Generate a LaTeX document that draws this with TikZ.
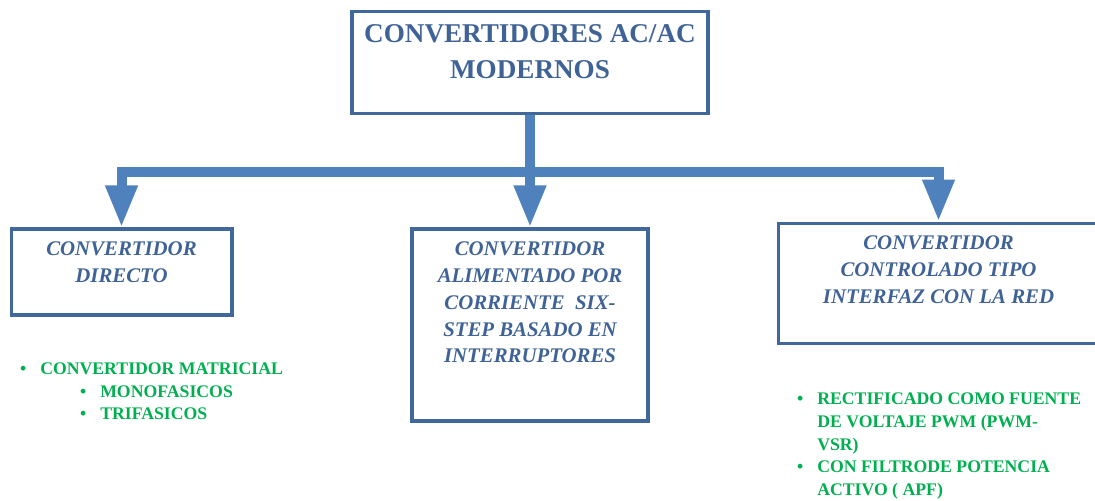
\documentclass[tikz,border=0pt]{standalone}
\usepackage{fontspec}
\setmainfont{Liberation Serif}
\usetikzlibrary{arrows.meta, positioning}
\definecolor{azulborde}{HTML}{41689A}
\definecolor{azultexto}{HTML}{3F6396}
\definecolor{azulflecha}{HTML}{4F81BD}
\definecolor{verdelista}{HTML}{00B050}
\tikzstyle{caja} = [draw=azulborde, line width=2.8pt, rectangle, fill=white, inner sep=0pt]
\tikzstyle{titulo} = [text=azultexto, font=\fontsize{19.3}{25}\selectfont\bfseries, align=center, inner sep=0pt]
\tikzstyle{subtitulo} = [text=azultexto, font=\fontsize{14.8}{19}\selectfont\bfseries\itshape, align=center, inner sep=0pt]
\tikzstyle{lista} = [text=verdelista, font=\fontsize{12.6}{16.4}\selectfont\bfseries, align=left, inner sep=0pt, anchor=north west]
\tikzstyle{tronco} = [draw=azulflecha, line width=0.25cm]
\tikzstyle{flecha} = [tronco, -{Triangle[width=0.75cm,length=1.05cm]}]

\begin{document}
\begin{tikzpicture}[x=0.025cm, y=-0.025cm]
	\useasboundingbox (0,0) rectangle (1095,500);
	% cajas
	\node[caja, minimum width=8.9cm, minimum height=2.55cm] (raiz) at (530,62.5) {};
	\node[caja, minimum width=5.5cm, minimum height=2.13cm] (izq) at (121.5,272) {};
	\node[caja, minimum width=5.88cm, minimum height=4.78cm] (centro) at (530,325) {};
	\node[caja, minimum width=8cm, minimum height=3cm] (der) at (938.5,283.5) {};
	% textos
	\node[titulo, below=0.38cm of raiz.north] (textoraiz) {CONVERTIDORES AC/AC\\MODERNOS};
	\node[subtitulo, below=0.36cm of izq.north] (textoizq) {CONVERTIDOR\\DIRECTO};
	\node[subtitulo, below=0.36cm of centro.north] (textocentro) {CONVERTIDOR\\ALIMENTADO POR\\CORRIENTE\ \ SIX-\\STEP BASADO EN\\INTERRUPTORES};
	\node[subtitulo, below=0.36cm of der.north] (textoder) {CONVERTIDOR\\CONTROLADO TIPO\\INTERFAZ CON LA RED};
	% conectores
	\coordinate (nudo) at (530,172);
	\draw[tronco] (raiz.south) -- (nudo);
	\draw[flecha] (nudo) -| (izq.north);
	\draw[flecha] (nudo) -- (centro.north);
	\draw[flecha] (nudo) -| (der.north);
	% listas
	\node[lista] (matricial) at (40,362) {\llap{\textbullet\hspace{10pt}}CONVERTIDOR MATRICIAL};
	\node[lista] (mono) at (100,385) {\llap{\textbullet\hspace{10pt}}MONOFASICOS};
	\node[lista] (tri) at (100,407) {\llap{\textbullet\hspace{10pt}}TRIFASICOS};
	\node[lista] (rectificado) at (817,392) {\llap{\textbullet\hspace{10pt}}RECTIFICADO COMO FUENTE\\DE VOLTAJE PWM (PWM-\\VSR)};
	\node[lista] (filtro) at (817,460) {\llap{\textbullet\hspace{10pt}}CON FILTRODE POTENCIA\\ACTIVO ( APF)};
\end{tikzpicture}
\end{document}
